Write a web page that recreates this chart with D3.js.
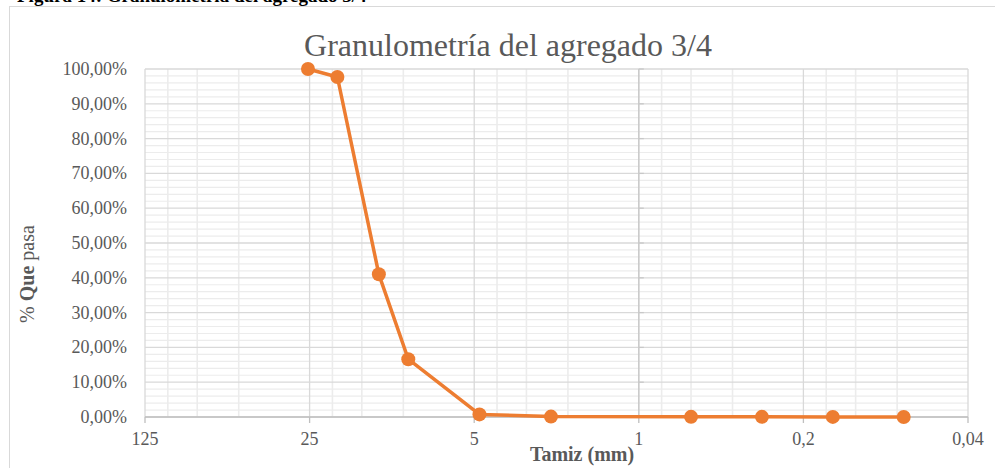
<!DOCTYPE html>
<html>
<head>
<meta charset="utf-8">
<script src="https://cdn.jsdelivr.net/npm/d3@7"></script>
<style>
  html, body { margin: 0; padding: 0; background: #fff; }
  svg { display: block; }
</style>
</head>
<body>
<svg id="chart" width="995" height="468"></svg>
<script>
// ---- Data ----
const sieveSizes = [25.4, 19.05, 12.7, 9.525, 4.75, 2.36, 0.6, 0.3, 0.15, 0.075]; // mm
const passing = [100, 97.7, 41.0, 16.6, 0.75, 0.12, 0.05, 0.04, 0.03, 0.02];      // %
const xTicks = [125, 25, 5, 1, 0.2, 0.04];
const xTickLabels = ["125", "25", "5", "1", "0,2", "0,04"];
const yTicks = [0, 10, 20, 30, 40, 50, 60, 70, 80, 90, 100];
const yTickLabels = ["0,00%", "10,00%", "20,00%", "30,00%", "40,00%", "50,00%", "60,00%", "70,00%", "80,00%", "90,00%", "100,00%"];
const titleText = "Granulometría del agregado 3/4";
const captionText = "Figura 14: Granulometría del agregado 3/4";
const xTitle = "Tamiz (mm)";

// ---- Layout ----
const svg = d3.select("#chart");
const pLeft = 145, pRight = 968, pTop = 69, pBottom = 417;
const serif = "'Liberation Serif', 'Times New Roman', serif";
const grey = "#595959";

const x = d3.scaleLog().base(5).domain([125, 0.04]).range([pLeft, pRight]);
const y = d3.scaleLinear().domain([0, 100]).range([pBottom, pTop]);

// caption (cut by the top edge, as in the source)
svg.append("text").attr("x", 17).attr("y", 2)
  .attr("font-family", serif).attr("font-weight", "bold").attr("font-size", 19)
  .attr("fill", "#000").text(captionText);

// chart frame
svg.append("rect").attr("x", 9.5).attr("y", 6.5).attr("width", 1100).attr("height", 600)
  .attr("fill", "#fff").attr("stroke", "#d9d9d9").attr("stroke-width", 1);

const grid = svg.append("g");
// minor horizontal grid (every 2%)
const yMinor = d3.range(2, 100, 2).filter(v => v % 10 !== 0);
grid.selectAll(".ymin").data(yMinor).join("line")
  .attr("x1", pLeft).attr("x2", pRight)
  .attr("y1", d => y(d)).attr("y2", d => y(d))
  .attr("stroke", "#ececec").attr("stroke-width", 1.2);
// minor vertical grid (2x,3x,4x of each lower major)
const xMinor = [];
xTicks.slice(1).forEach(m => [2, 3, 4].forEach(k => xMinor.push(m * k)));
grid.selectAll(".xmin").data(xMinor).join("line")
  .attr("x1", d => x(d)).attr("x2", d => x(d))
  .attr("y1", pTop).attr("y2", pBottom)
  .attr("stroke", "#ececec").attr("stroke-width", 1.6);
// major horizontal grid
grid.selectAll(".ymaj").data(yTicks).join("line")
  .attr("x1", pLeft).attr("x2", pRight)
  .attr("y1", d => y(d)).attr("y2", d => y(d))
  .attr("stroke", "#d9d9d9").attr("stroke-width", 1.3);
// major vertical grid
grid.selectAll(".xmaj").data(xTicks).join("line")
  .attr("x1", d => x(d)).attr("x2", d => x(d))
  .attr("y1", pTop).attr("y2", pBottom)
  .attr("stroke", "#d9d9d9").attr("stroke-width", 1.3);

// vertical axis line (crosses at 1)
svg.append("line").attr("x1", x(1)).attr("x2", x(1)).attr("y1", pTop).attr("y2", pBottom)
  .attr("stroke", "#c8c8c8").attr("stroke-width", 1.3);
svg.selectAll(".yt").data(yTicks).join("line")
  .attr("x1", x(1)).attr("x2", x(1) + 5)
  .attr("y1", d => y(d)).attr("y2", d => y(d))
  .attr("stroke", "#c8c8c8").attr("stroke-width", 1.3);

// horizontal axis line
svg.append("line").attr("x1", pLeft).attr("x2", pRight).attr("y1", pBottom).attr("y2", pBottom)
  .attr("stroke", "#bfbfbf").attr("stroke-width", 1.3);
svg.selectAll(".xt").data(xTicks).join("line")
  .attr("x1", d => x(d)).attr("x2", d => x(d))
  .attr("y1", pBottom).attr("y2", pBottom + 6)
  .attr("stroke", "#bfbfbf").attr("stroke-width", 1.3);

// y tick labels
svg.selectAll(".ylab").data(yTicks).join("text")
  .attr("x", 127).attr("y", d => y(d) + 6)
  .attr("text-anchor", "end")
  .attr("font-family", serif).attr("font-size", 18).attr("fill", grey)
  .text((d, i) => yTickLabels[i]);

// x tick labels
svg.selectAll(".xlab").data(xTicks).join("text")
  .attr("x", d => x(d)).attr("y", 445)
  .attr("text-anchor", "middle")
  .attr("font-family", serif).attr("font-size", 18).attr("fill", grey)
  .text((d, i) => xTickLabels[i]);

// title
svg.append("text").attr("x", 508).attr("y", 56)
  .attr("text-anchor", "middle")
  .attr("font-family", serif).attr("font-size", 32).attr("fill", grey)
  .text(titleText);

// x axis title
svg.append("text").attr("x", 582).attr("y", 461)
  .attr("text-anchor", "middle")
  .attr("font-family", serif).attr("font-size", 20).attr("font-weight", "bold").attr("fill", grey)
  .text(xTitle);

// y axis title
const yt = svg.append("text")
  .attr("transform", "translate(34,274) rotate(-90)")
  .attr("text-anchor", "middle")
  .attr("font-family", serif).attr("font-size", 20).attr("fill", grey);
yt.append("tspan").text("% ");
yt.append("tspan").attr("font-weight", "bold").text("Que");
yt.append("tspan").text(" pasa");

// series
const pts = sieveSizes.map((s, i) => [s, passing[i]]);
const line = d3.line().x(d => x(d[0])).y(d => y(d[1]));
svg.append("path").datum(pts).attr("d", line)
  .attr("fill", "none").attr("stroke", "#ED7D31").attr("stroke-width", 3.5)
  .attr("stroke-linejoin", "round");
svg.selectAll(".pt").data(pts).join("circle")
  .attr("cx", d => x(d[0])).attr("cy", d => y(d[1])).attr("r", 7)
  .attr("fill", "#ED7D31");
</script>
</body>
</html>
